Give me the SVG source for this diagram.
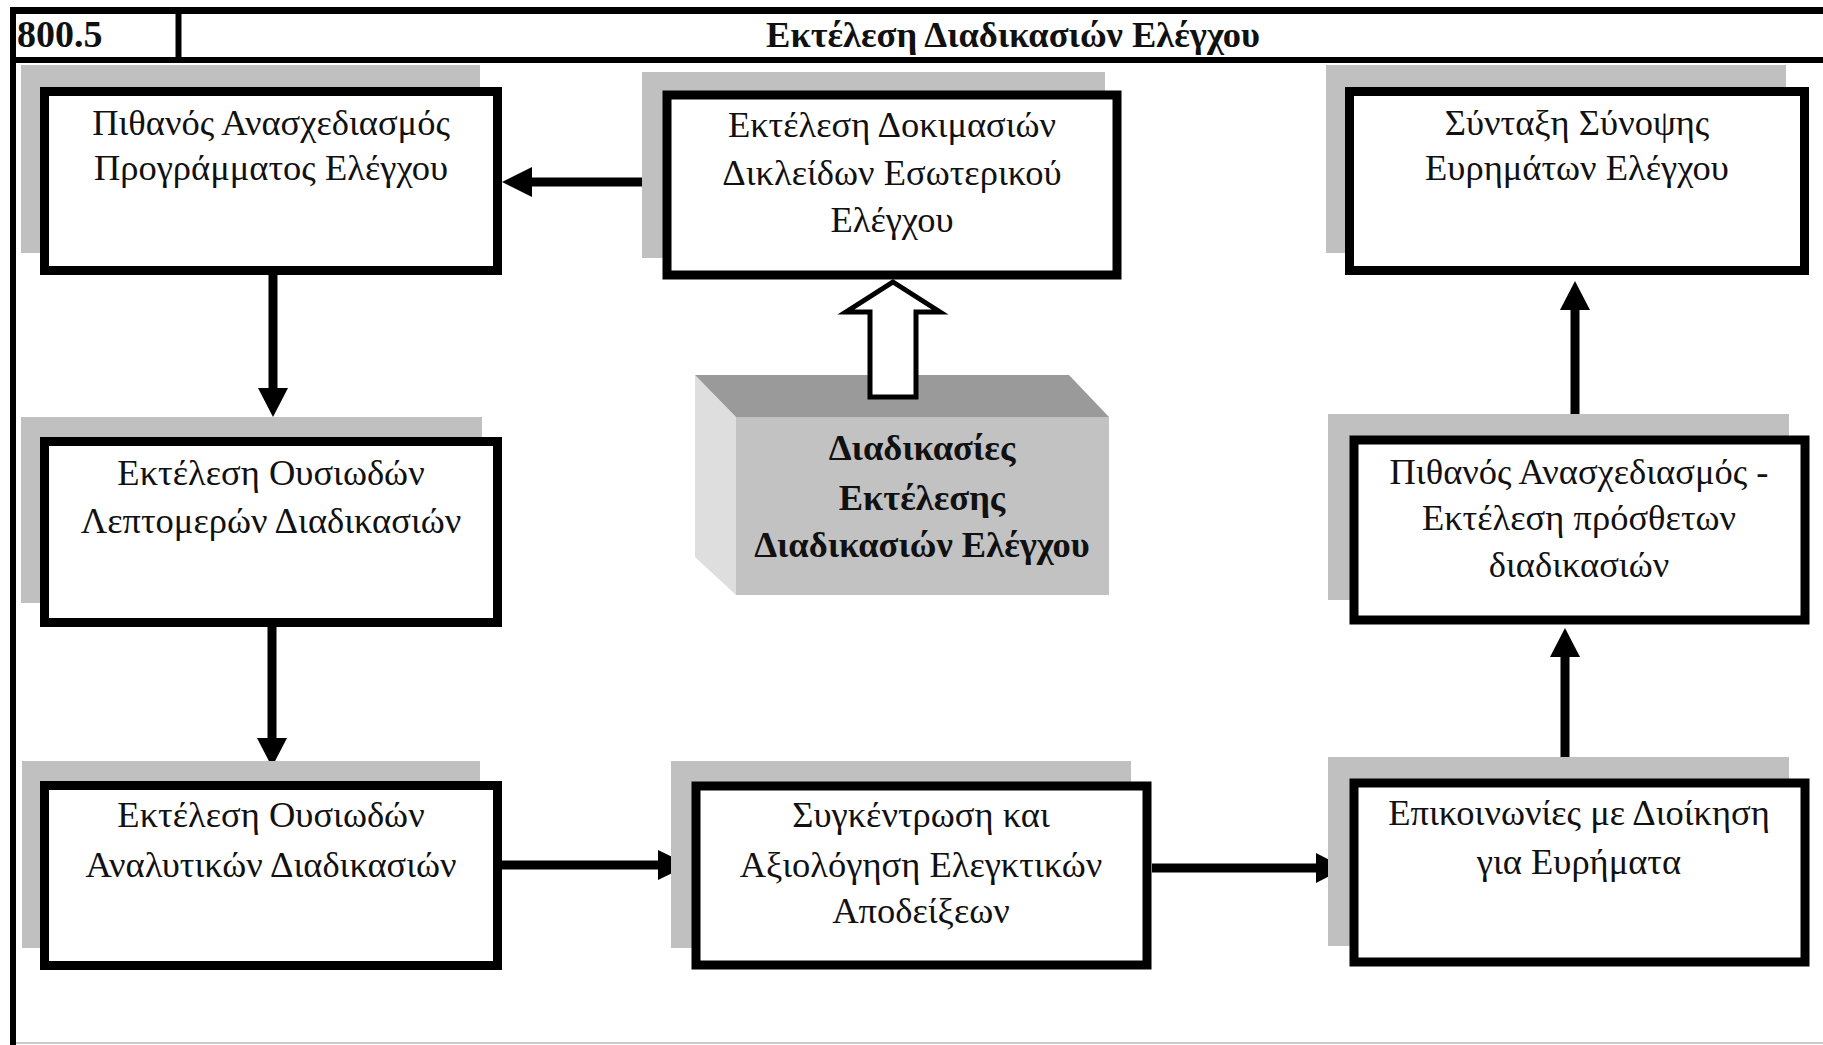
<svg xmlns="http://www.w3.org/2000/svg" width="1823" height="1045" viewBox="0 0 1823 1045">
<defs>
<style>
.shadow{fill:#c0c0c0;}
.box{fill:#fff;stroke:#000;stroke-width:9;}
.t{font-family:"Liberation Serif","Times New Roman",serif;font-size:36.5px;fill:#111;text-anchor:middle;}
.b{font-family:"Liberation Serif","Times New Roman",serif;font-size:36.5px;font-weight:bold;fill:#111;}
.conn{stroke:#000;stroke-width:9;fill:none;}
.head{fill:#000;}
</style>
</defs>
<rect x="0" y="0" width="1823" height="1045" fill="#fff"/>
<g id="frame">
<line x1="13" y1="10.5" x2="1823" y2="10.5" stroke="#000" stroke-width="7"/>
<line x1="13" y1="60" x2="1823" y2="60" stroke="#000" stroke-width="6"/>
<line x1="13" y1="7" x2="13" y2="1045" stroke="#000" stroke-width="6"/>
<line x1="178.5" y1="10" x2="178.5" y2="60" stroke="#000" stroke-width="6"/>
<line x1="16" y1="1043" x2="1823" y2="1043" stroke="#ccc" stroke-width="2"/>
<text class="b" x="17" y="47" style="font-size:38px">800.5</text>
<text class="b" x="1013" y="47" text-anchor="middle">Εκτέλεση Διαδικασιών Ελέγχου</text>
</g>
<g id="connectors">
<line class="conn" x1="662" y1="182" x2="530" y2="182"/>
<polygon class="head" points="502,182 532,167 532,197"/>
<line class="conn" x1="273" y1="275" x2="273" y2="390"/>
<polygon class="head" points="273,417 258,388 288,388"/>
<line class="conn" x1="272" y1="627" x2="272" y2="740"/>
<polygon class="head" points="272,767 257,738 287,738"/>
<line class="conn" x1="502" y1="865" x2="660" y2="865"/>
<polygon class="head" points="689,865 658,850 658,880"/>
<line class="conn" x1="1152" y1="868" x2="1318" y2="868"/>
<polygon class="head" points="1345,868 1316,853 1316,883"/>
<line class="conn" x1="1565" y1="778" x2="1565" y2="655"/>
<polygon class="head" points="1565,628 1550,657 1580,657"/>
<line class="conn" x1="1575" y1="435" x2="1575" y2="308"/>
<polygon class="head" points="1575,281 1560,310 1590,310"/>
</g>
<g id="n1">
<rect class="shadow" x="21" y="65" width="459" height="188"/>
<rect class="box" x="44.5" y="91.5" width="453" height="179"/>
<text class="t" x="271" y="135">Πιθανός Ανασχεδιασμός</text>
<text class="t" x="271" y="180">Προγράμματος Ελέγχου</text>
</g>
<g id="n2">
<rect class="shadow" x="21" y="417" width="461" height="186"/>
<rect class="box" x="44.5" y="441.5" width="453" height="181"/>
<text class="t" x="271" y="485">Εκτέλεση Ουσιωδών</text>
<text class="t" x="271" y="533">Λεπτομερών Διαδικασιών</text>
</g>
<g id="n3">
<rect class="shadow" x="22" y="761" width="458" height="187"/>
<rect class="box" x="44.5" y="785.5" width="453" height="180"/>
<text class="t" x="271" y="827">Εκτέλεση Ουσιωδών</text>
<text class="t" x="271" y="877">Αναλυτικών Διαδικασιών</text>
</g>
<g id="n4">
<rect class="shadow" x="642" y="72" width="463" height="186"/>
<rect class="box" x="667" y="95" width="450" height="180" stroke-width="10"/>
<text class="t" x="892" y="137">Εκτέλεση Δοκιμασιών</text>
<text class="t" x="892" y="185">Δικλείδων Εσωτερικού</text>
<text class="t" x="892" y="232">Ελέγχου</text>
</g>
<g id="n5">
<rect class="shadow" x="671" y="761" width="460" height="187"/>
<rect class="box" x="696" y="786" width="451" height="179" stroke-width="10"/>
<text class="t" x="921" y="827">Συγκέντρωση και</text>
<text class="t" x="921" y="877">Αξιολόγηση Ελεγκτικών</text>
<text class="t" x="921" y="923">Αποδείξεων</text>
</g>
<g id="n6">
<rect class="shadow" x="1326" y="65" width="460" height="188"/>
<rect class="box" x="1349.5" y="91.5" width="455" height="179"/>
<text class="t" x="1577" y="135">Σύνταξη Σύνοψης</text>
<text class="t" x="1577" y="180">Ευρημάτων Ελέγχου</text>
</g>
<g id="n7">
<rect class="shadow" x="1328" y="414" width="461" height="186"/>
<rect class="box" x="1354" y="440" width="451" height="180" stroke-width="10"/>
<text class="t" x="1579" y="484">Πιθανός Ανασχεδιασμός -</text>
<text class="t" x="1579" y="530">Εκτέλεση πρόσθετων</text>
<text class="t" x="1579" y="577">διαδικασιών</text>
</g>
<g id="n8">
<rect class="shadow" x="1328" y="757" width="461" height="189"/>
<rect class="box" x="1354" y="783" width="451" height="179" stroke-width="10"/>
<text class="t" x="1579" y="825">Επικοινωνίες με Διοίκηση</text>
<text class="t" x="1579" y="874">για Ευρήματα</text>
</g>
<g id="n9">
<polygon points="695,375 736,417 736,595 695,557" fill="#dedede"/>
<polygon points="695,375 1069,375 1109,417 736,417" fill="#9a9a9a"/>
<rect x="736" y="417" width="373" height="178" fill="#c2c2c2"/>
<text class="b" x="922" y="460" text-anchor="middle">Διαδικασίες</text>
<text class="b" x="922" y="510" text-anchor="middle">Εκτέλεσης</text>
<text class="b" x="922" y="557" text-anchor="middle">Διαδικασιών Ελέγχου</text>
</g>
<g id="hollow-arrow">
<polygon points="893,282 940,312 916,312 916,397 870,397 870,312 846,312" fill="#fff" stroke="#000" stroke-width="5" stroke-linejoin="miter"/>
</g>
</svg>
